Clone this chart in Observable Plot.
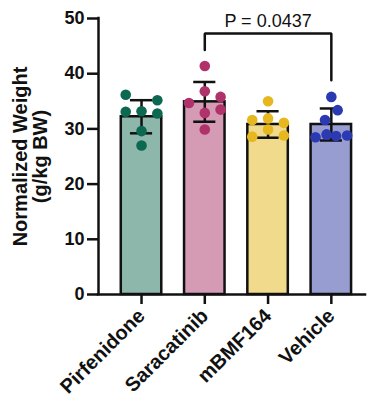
<!DOCTYPE html>
<html>
<head>
<meta charset="utf-8">
<script src="https://cdn.jsdelivr.net/npm/d3@7"></script>
<script src="https://cdn.jsdelivr.net/npm/@observablehq/plot@0.6"></script>
<style>
  html, body { margin: 0; padding: 0; background: #fff; }
</style>
</head>
<body>
<div id="chart"></div>
<script>
// ---- data ----
const groups = ["Pirfenidone", "Saracatinib", "mBMF164", "Vehicle"];
const means = [32.2, 34.9, 30.8, 30.8];
const sds = [3.0, 3.6, 2.4, 2.9];

// individual animals (value) and scatter column (jitter slot) per group
const pirfenidone = [36.2, 35.2, 33.2, 33.1, 32.8, 29.6, 27.0];
const pirfenidoneSlot = [-1, 1, 0, -1, 1, 0, 0];
const saracatinib = [41.4, 36.8, 35.8, 34.7, 33.5, 32.9, 29.9];
const saracatinibSlot = [0, 0, 1, -1, 1, 0, 0];
const mbmf164 = [35.0, 31.9, 31.6, 31.1, 29.9, 28.8, 28.6];
const mbmf164Slot = [0, 0, -1, 1, 0, 1, -1];
const vehicle = [35.8, 33.4, 31.6, 29.0, 28.7, 28.5, 28.8];
const vehicleSlot = [0, 0.4, -0.4, -0.3, 0.3, -1, 1];

const barColors = ["#8db7aa", "#d59ab4", "#f2da8c", "#979dd1"];
const dotColors = ["#0d6851", "#b0326b", "#e6b71f", "#2c3ab2"];

const yTicks = [0, 10, 20, 30, 40, 50];
const yLabelLines = ["Normalized Weight", "(g/kg BW)"];

// significance bracket (Saracatinib vs Vehicle)
const bracketGroups = [1, 1, 3, 3];
const bracketValues = [44.3, 47.3, 47.3, 38.8];
const pLabel = "P = 0.0437";

// ---- layout helpers ----
const slotWidth = 0.25;   // scatter column spacing, in category units
const halfBar = 0.32;     // half bar width, in category units
const halfCap = 0.175;    // half error cap width
const xDomain = [-0.68, 3.54];

const bars = groups.map((g, i) => ({
  i, group: g, mean: means[i], lo: means[i] - sds[i], hi: means[i] + sds[i],
  fill: barColors[i]
}));

const series = [
  [pirfenidone, pirfenidoneSlot],
  [saracatinib, saracatinibSlot],
  [mbmf164, mbmf164Slot],
  [vehicle, vehicleSlot]
];
const points = series.flatMap(([vals, slots], i) =>
  vals.map((v, k) => ({i, x: i + slots[k] * slotWidth, value: v, color: dotColors[i]}))
);

const bracket = bracketGroups.map((g, k) => ({x: g, y: bracketValues[k]}));

const plot = Plot.plot({
  width: 368,
  height: 402,
  marginLeft: 98,
  marginRight: 3,
  marginTop: 18,
  marginBottom: 108,
  style: {fontFamily: "'Liberation Sans', Arial, Helvetica, sans-serif", fontWeight: "bold", fontSize: "18px", color: "#111", background: "#fff"},
  x: {type: "linear", domain: xDomain, axis: null},
  y: {domain: [0, 50], axis: null},
  marks: [
    Plot.rectY(bars, {
      x1: d => d.i - halfBar, x2: d => d.i + halfBar, y1: 0, y2: "mean",
      fill: "fill", stroke: "#111", strokeWidth: 2.5
    }),
    Plot.ruleX(bars, {x: "i", y1: "lo", y2: "hi", stroke: "#111", strokeWidth: 2.5}),
    Plot.ruleY(bars, {y: "hi", x1: d => d.i - halfCap, x2: d => d.i + halfCap, stroke: "#111", strokeWidth: 2.5}),
    Plot.ruleY(bars, {y: "lo", x1: d => d.i - halfCap, x2: d => d.i + halfCap, stroke: "#111", strokeWidth: 2.5}),
    Plot.dot(points, {x: "x", y: "value", r: 5.3, fill: "color", stroke: "none"}),
    // axes
    Plot.ruleY([0], {stroke: "#111", strokeWidth: 2.5, strokeLinecap: "square"}),
    Plot.ruleX([xDomain[0]], {stroke: "#111", strokeWidth: 2.5, strokeLinecap: "square"}),
    Plot.axisY({ticks: yTicks, tickSize: 11, tickPadding: 3, strokeWidth: 2.5, fontSize: 18, fontWeight: "bold", label: null}),
    Plot.axisX({ticks: [0, 1, 2, 3], tickFormat: i => groups[i], tickSize: 10, tickPadding: 8, tickRotate: -45, strokeWidth: 2.5, fontSize: 20, fontWeight: "bold", label: null}),
    // y axis title (two lines)
    Plot.text([yLabelLines.join("\n")], {
      text: d => d, frameAnchor: "left", rotate: -90, dx: -68,
      lineHeight: 1.0, fontSize: 20, fontWeight: "bold", textAnchor: "middle", lineAnchor: "middle"
    }),
    // significance bracket
    Plot.line(bracket, {x: "x", y: "y", stroke: "#111", strokeWidth: 2.5, strokeLinejoin: "miter"}),
    Plot.text([pLabel], {
      x: (bracketGroups[0] + bracketGroups[3]) / 2, y: bracketValues[1], text: d => d,
      lineAnchor: "bottom", dy: -6, fontSize: 18, fontWeight: "normal"
    })
  ]
});
document.getElementById("chart").appendChild(plot);
</script>
</body>
</html>
